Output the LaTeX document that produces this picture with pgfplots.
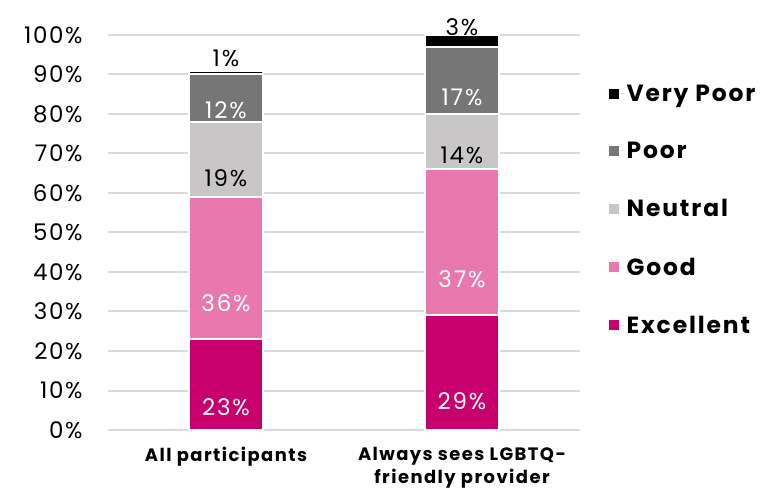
\documentclass[border=0pt]{standalone}
\usepackage{fontspec}
\setmainfont{Poppins}
\usepackage{pgfplots}
\pgfplotsset{compat=1.18}
\definecolor{cExc}{HTML}{C8006E}
\definecolor{cGood}{HTML}{E878AE}
\definecolor{cNeu}{HTML}{C8C6C6}
\definecolor{cPoor}{HTML}{767677}
\definecolor{cVP}{HTML}{000000}
\definecolor{cGrid}{HTML}{DADADA}
\newcommand\tickfont{\fontsize{23}{25}\selectfont\addfontfeature{LetterSpace=7}}
\newcommand\lblfont{\fontsize{23}{25}\selectfont\addfontfeature{LetterSpace=8}}
\newcommand\legfont{\fontsize{23.5}{25}\selectfont\bfseries\addfontfeature{LetterSpace=8}}
\newcommand\xfont{\fontsize{18}{22.5}\selectfont\bfseries\addfontfeature{LetterSpace=8}}
\begin{document}
\begin{tikzpicture}
\begin{axis}[
  scale only axis, width=472bp, height=395bp,
  ybar stacked, bar width=74bp,
  xmin=-0.5, xmax=1.5, ymin=0, ymax=100,
  xtick={0,1}, xticklabels={All participants, {Always sees LGBTQ-\\friendly provider}},
  xticklabel style={font=\xfont, align=center, yshift=-14bp},
  ytick={0,10,...,100},
  yticklabel={\pgfmathprintnumber{\tick}\%},
  yticklabel style={font=\tickfont, xshift=-22bp},
  /pgf/number format/assume math mode=true,
  tick style={draw=none},
  axis line style={draw=none},
  ymajorgrids, grid style={cGrid, line width=2bp},
  every axis plot/.append style={draw=white, line width=2bp},
  point meta=rawy,
  visualization depends on={rawy \as \rawy},
  nodes near coords={\pgfmathprintnumber{\pgfplotspointmeta}\%},
  every node near coord/.append style={font=\lblfont, anchor=center, /pgf/number format/assume math mode=true},
  legend style={at={(1.058,0.88)}, anchor=north west, draw=none, fill=none, inner sep=0pt,
    row sep=35.5bp, font=\legfont, cells={anchor=west}},
  legend image code/.code={\fill[#1,draw=none] (1bp,-5bp) rectangle (11bp,5bp); \path[draw=none] (0,0) -- (17bp,0);},
  reverse legend,
  clip=false,
]
\addplot[fill=cExc, every node near coord/.append style={text=white, yshift=-\rawy*0.9875bp}] coordinates {(0,23) (1,29)};
\addlegendentry{Excellent}
\addplot[fill=cGood, every node near coord/.append style={text=white, yshift=-\rawy*0.9875bp}] coordinates {(0,36) (1,37)};
\addlegendentry{Good}
\addplot[fill=cNeu, every node near coord/.append style={text=black, yshift=-\rawy*0.9875bp}] coordinates {(0,19) (1,14)};
\addlegendentry{Neutral}
\addplot[fill=cPoor, every node near coord/.append style={text=white, yshift=-\rawy*0.9875bp}] coordinates {(0,12) (1,17)};
\addlegendentry{Poor}
\addplot[fill=cVP, every node near coord/.append style={text=black, anchor=south, yshift=1bp}] coordinates {(0,1) (1,3)};
\addlegendentry{Very Poor}
\end{axis}
\pgfresetboundingbox
\useasboundingbox ([xshift=-108bp,yshift=-63bp]current axis.south west) rectangle ([xshift=203bp,yshift=35bp]current axis.north east);
\end{tikzpicture}
\end{document}
